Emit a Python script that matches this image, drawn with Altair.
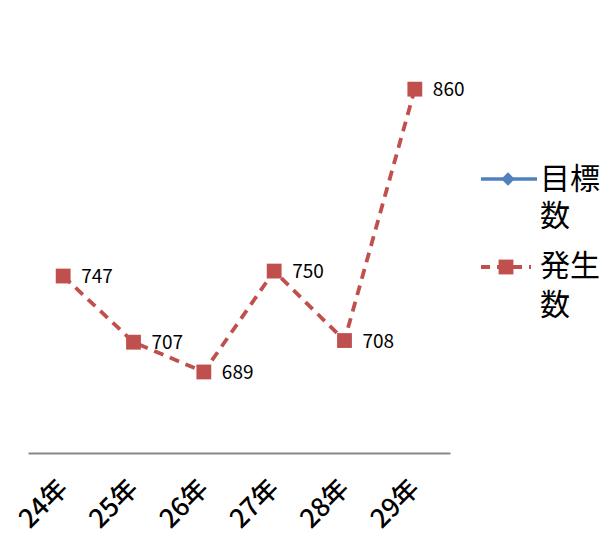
import altair as alt
import pandas as pd

years = ["24年", "25年", "26年", "27年", "28年", "29年"]
occurred = [747, 707, 689, 750, 708, 860]

series_names = ["目標数", "発生数"]
series_colors = ["#4F81BD", "#C0504D"]

FONT = "Noto Sans CJK JP"

df = pd.DataFrame({"year": years, "count": occurred})

x = alt.X("year:N", sort=years, title=None,
          scale=alt.Scale(paddingOuter=0.5, paddingInner=1),
          axis=alt.Axis(labelAngle=-45, labelAlign="right", labelBaseline="middle",
                        labelFontSize=26, labelFont=FONT, labelColor="#000000",
                        labelPadding=31, ticks=False, domainColor="#878787",
                        domainWidth=2, grid=False, labelFontWeight=500))
y = alt.Y("count:Q", title=None, scale=alt.Scale(domain=[640, 900], nice=False, zero=False),
          axis=None)

base = alt.Chart(df).encode(x=x, y=y)

line = base.mark_line(color=series_colors[1], strokeWidth=3.8, strokeDash=[10, 7])
points = base.mark_point(shape="square", filled=True, size=220, opacity=1,
                         color=series_colors[1])
labels = base.mark_text(align="left", baseline="middle", dx=18, dy=1, fontSize=19,
                        font=FONT, color="#000000").encode(text="count:Q")

# legend drawn beside the plot
leg = pd.DataFrame({"name": series_names, "color": series_colors,
                    "label": ["目標\n数", "発生\n数"]})
legend_line_a = alt.Chart(leg.iloc[[0]]).mark_rule(strokeWidth=3.5, color=series_colors[0]).encode(
    x=alt.value(453), x2=alt.value(509), y=alt.value(156))
legend_pt_a = alt.Chart(leg.iloc[[0]]).mark_point(shape="diamond", filled=True, size=180, opacity=1,
                                                  color=series_colors[0]).encode(
    x=alt.value(480), y=alt.value(156))
legend_line_b = alt.Chart(leg.iloc[[1]]).mark_rule(strokeWidth=3.8, color=series_colors[1],
                                                   strokeDash=[9, 7]).encode(
    x=alt.value(453), x2=alt.value(503), y=alt.value(244))
legend_pt_b = alt.Chart(leg.iloc[[1]]).mark_point(shape="square", filled=True, size=220, opacity=1,
                                                  color=series_colors[1]).encode(
    x=alt.value(478), y=alt.value(244))
legend_text_a = alt.Chart(leg.iloc[[0]]).mark_text(align="left", baseline="middle", fontSize=30,
                                                   font=FONT, lineBreak="\n", lineHeight=37,
                                                   color="#000000").encode(
    x=alt.value(512), y=alt.value(157), text="label:N")
legend_text_b = alt.Chart(leg.iloc[[1]]).mark_text(align="left", baseline="middle", fontSize=30,
                                                   font=FONT, lineBreak="\n", lineHeight=39,
                                                   color="#000000").encode(
    x=alt.value(512), y=alt.value(244), text="label:N")

chart = alt.layer(line, points, labels,
                  legend_line_a, legend_pt_a, legend_text_a,
                  legend_line_b, legend_pt_b, legend_text_b).properties(
    width=422, height=430,
    padding={"left": 28, "top": 23, "right": 157, "bottom": 93},
    autosize=alt.AutoSizeParams(type="none"),
    background="#FFFFFF",
).configure_view(stroke=None)

chart.save("out.html", embed_options={"renderer": "svg", "actions": False})
